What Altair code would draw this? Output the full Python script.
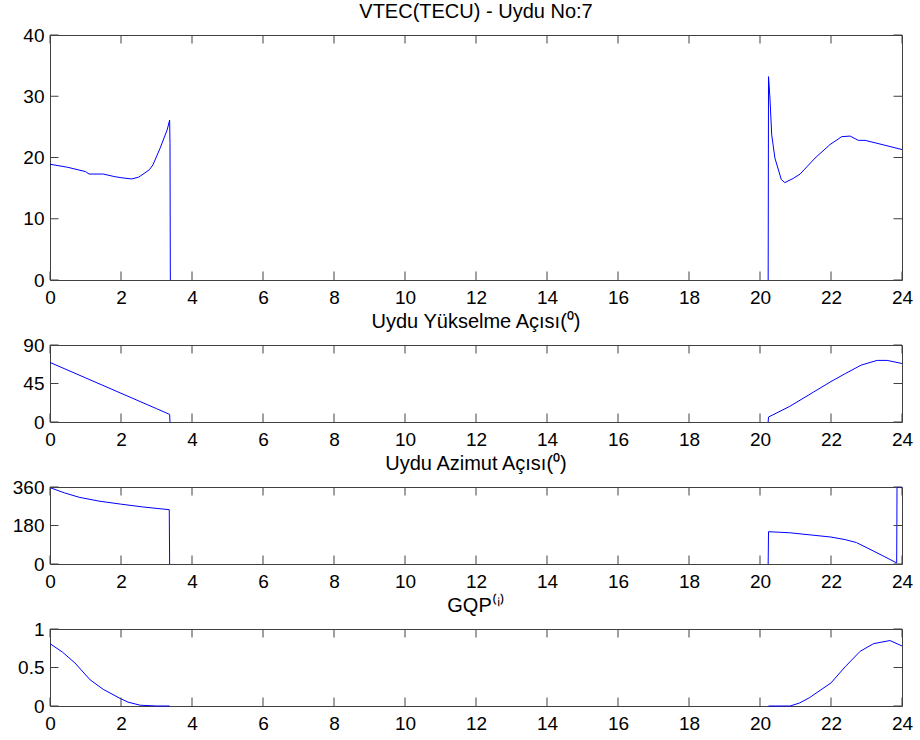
import altair as alt
import pandas as pd

# ---------------- data ----------------
x_ticks = list(range(0, 25, 2))

# VTEC (TECU)
vtec_x1 = [0, 0.5, 1.0, 1.1, 1.5, 1.8, 2.0, 2.3, 2.5, 2.8, 2.9, 3.1, 3.3, 3.37, 3.38, 3.39]
vtec_y1 = [18.9, 18.4, 17.7, 17.3, 17.3, 16.9, 16.7, 16.5, 16.8, 18.0, 18.8, 21.5, 24.5, 26.1, 22.3, 0]
vtec_x2 = [20.23, 20.24, 20.28, 20.33, 20.42, 20.6, 20.7, 20.94, 21.13, 21.55, 21.97, 22.3, 22.54,
           22.77, 22.96, 23.38, 24.0]
vtec_y2 = [0, 33.2, 29.7, 23.7, 19.9, 16.4, 15.9, 16.6, 17.3, 19.9, 22.1, 23.4, 23.5,
           22.8, 22.8, 22.2, 21.3]

# Elevation angle (deg)
elev_x1 = [0, 1, 2, 3, 3.37, 3.38]
elev_y1 = [69.6, 51.6, 33.6, 15.6, 8.9, 0]
elev_x2 = [20.23, 20.24, 20.84, 21.5, 22.0, 22.4, 22.85, 23.3, 23.58, 24.0]
elev_y2 = [0, 5.8, 18.3, 34.8, 47.3, 56.5, 66.5, 72, 72, 68.4]

# Azimuth angle (deg)
azim_x1 = [0, 0.4, 0.82, 1.38, 1.99, 2.6, 3.36, 3.37]
azim_y1 = [357, 333, 312, 294, 280, 267, 254, 0]
azim_x2 = [20.23, 20.24, 20.84, 22.0, 22.4, 22.72, 23.19, 23.5, 23.85, 23.86, 24.0]
azim_y2 = [0, 151, 146, 126, 114, 100, 61, 35, 5, 358, 357]

# GQP
gqp_x1 = [0, 0.35, 0.70, 1.13, 1.50, 1.97, 2.2, 2.54, 3.0, 3.37]
gqp_y1 = [0.81, 0.70, 0.56, 0.34, 0.216, 0.10, 0.05, 0.01, 0.0, 0.0]
gqp_x2 = [20.24, 20.85, 21.12, 21.4, 22.0, 22.4, 22.82, 23.2, 23.66, 24.0]
gqp_y2 = [0, 0.0, 0.04, 0.11, 0.30, 0.51, 0.71, 0.81, 0.85, 0.78]

titles = ["VTEC(TECU) - Uydu No:7", "Uydu Yükselme Açısı(⁰)", "Uydu Azimut Açısı(⁰)", "GQP⁽ⁱ⁾"]
y_domains = [[0, 40], [0, 90], [0, 360], [0, 1]]
y_tick_vals = [[0, 10, 20, 30, 40], [0, 45, 90], [0, 180, 360], [0, 0.5, 1]]
y_formats = ["d", "d", "d", ".1~f"]

# ---------------- styling ----------------
W = 852
HEIGHTS = [245, 77, 77, 77]
FONT = "Liberation Sans"
FS = 19
TFS = 20
BLUE = "#0000ff"
FRAME = "#404040"
TL = 8.5  # inner tick length


def seg_frame(x1, y1, x2, y2):
    rows = []
    for s, (xs, ys) in enumerate([(x1, y1), (x2, y2)]):
        for i, (a, b) in enumerate(zip(xs, ys)):
            rows.append({"seg": s, "i": i, "x": a, "y": b})
    return pd.DataFrame(rows)


def panel(df, ydom, yticks, yfmt, H, title):
    xs = alt.Scale(domain=[0, 24], nice=False, zero=False)
    ys = alt.Scale(domain=ydom, nice=False, zero=False)
    xax = alt.Axis(values=x_ticks, format="d", title=None)
    yax = alt.Axis(values=yticks, format=yfmt, title=None)
    line = alt.Chart(df).mark_line(color=BLUE, strokeWidth=1).encode(
        x=alt.X("x:Q", scale=xs, axis=xax, title=None),
        y=alt.Y("y:Q", scale=ys, axis=yax, title=None),
        detail="seg:N",
        order="i:Q",
    )
    xt = pd.DataFrame({"t": x_ticks})
    yt = pd.DataFrame({"t": yticks})
    top = alt.Chart(xt).mark_rule(color=FRAME).encode(
        x=alt.X("t:Q", scale=xs, axis=xax, title=None), y=alt.value(0), y2=alt.value(TL))
    bot = alt.Chart(xt).mark_rule(color=FRAME).encode(
        x=alt.X("t:Q", scale=xs, axis=xax, title=None), y=alt.value(H), y2=alt.value(H - TL))
    left = alt.Chart(yt).mark_rule(color=FRAME).encode(
        y=alt.Y("t:Q", scale=ys, axis=yax, title=None), x=alt.value(0), x2=alt.value(TL))
    right = alt.Chart(yt).mark_rule(color=FRAME).encode(
        y=alt.Y("t:Q", scale=ys, axis=yax, title=None), x=alt.value(W), x2=alt.value(W - TL))
    return alt.layer(line, top, bot, left, right).properties(
        width=W, height=H, title=alt.Title(title))


frames = [
    seg_frame(vtec_x1, vtec_y1, vtec_x2, vtec_y2),
    seg_frame(elev_x1, elev_y1, elev_x2, elev_y2),
    seg_frame(azim_x1, azim_y1, azim_x2, azim_y2),
    seg_frame(gqp_x1, gqp_y1, gqp_x2, gqp_y2),
]

panels = [panel(frames[k], y_domains[k], y_tick_vals[k], y_formats[k], HEIGHTS[k], titles[k])
          for k in range(4)]

chart = alt.vconcat(*panels, spacing=3).properties(
    padding={"left": 11, "top": 1, "right": 0, "bottom": 0},
    background="white",
).configure_view(
    stroke=FRAME, strokeWidth=1
).configure_axis(
    labelFont=FONT, labelFontSize=FS, labelColor="black",
    domain=False, ticks=False, tickSize=0, grid=False,
    labelFlush=False, labelOverlap=False,
).configure_axisX(
    labelPadding=8
).configure_axisY(
    labelPadding=6
).configure_title(
    font=FONT, fontSize=TFS, fontWeight="normal", color="black",
    anchor="middle", baseline="alphabetic", offset=4,
)

chart.save("out.html", embed_options={"renderer": "svg", "actions": False})
